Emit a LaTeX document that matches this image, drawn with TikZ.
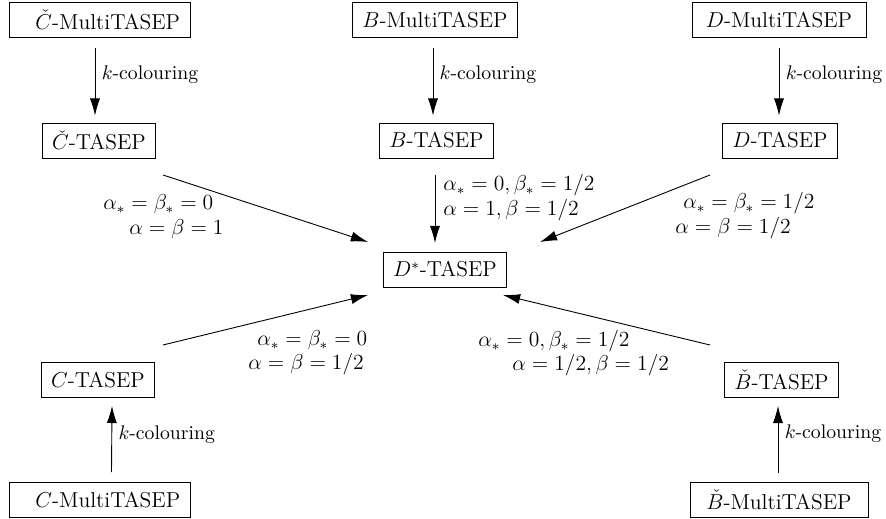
\documentclass[tikz,border=0pt]{standalone}
\usetikzlibrary{arrows.meta}
\begin{document}
\begin{tikzpicture}[x=0.5556pt,y=-0.5556pt,
  box/.style={draw,line width=0.5pt,inner xsep=5.5pt,inner ysep=0pt,minimum height=19.4pt,font=\fontsize{12}{14.4}\selectfont},
  widebox/.style={box,text width=89.6pt,align=right},
  arr/.style={line width=0.5pt,-{Latex[length=9.5pt,width=5.6pt]}},
  klab/.style={anchor=west,inner sep=1pt,xshift=2.5pt,font=\fontsize{10.95}{13.6}\selectfont},
  cond/.style={anchor=base west,inner sep=0pt,font=\fontsize{12}{14.4}\selectfont}]
\useasboundingbox (0,0) rectangle (886,519);
% nodes
\node[widebox] (CcM) at (99.5,20) {$\check{C}$-MultiTASEP};
\node[box] (BM) at (435,20) {$B$-MultiTASEP};
\node[box,minimum width=96.7pt] (DM) at (779,20) {$D$-MultiTASEP};
\node[box] (CcT) at (99,140.5) {$\check{C}$-TASEP};
\node[box] (BT) at (436.5,140.5) {$B$-TASEP};
\node[box] (DT) at (780,140.5) {$D$-TASEP};
\node[box] (Ds) at (445,269.5) {$D^{*}$-TASEP};
\node[box] (CT) at (98,380) {$C$-TASEP};
\node[box] (BcT) at (781.5,380) {$\check{B}$-TASEP};
\node[widebox] (CM) at (99.5,500) {$C$-MultiTASEP};
\node[box,minimum width=98.9pt] (BcM) at (779,500) {$\check{B}$-MultiTASEP};
% vertical arrows
\draw[arr] ([shift={(-4.5,10)}]CcM.south) -- node[klab,pos=0.4] (k1) {$k$-colouring} ([shift={(-4,-7)}]CcT.north);
\draw[arr] ([shift={(-2,10)}]BM.south) -- node[klab,pos=0.4] (k2) {$k$-colouring} ([shift={(-3.5,-7)}]BT.north);
\draw[arr] ([shift={(0,10)}]DM.south) -- node[klab,pos=0.4] (k3) {$k$-colouring} ([shift={(-1,-7)}]DT.north);
\draw[arr] ([shift={(12,-10)}]CM.north) -- node[klab,pos=0.57] (k4) {$k$-colouring} ([shift={(14,8)}]CT.south);
\draw[arr] ([shift={(-1,-9)}]BcM.north) -- node[klab,pos=0.59] (k5) {$k$-colouring} ([shift={(-3.5,8)}]BcT.south);
% diagonal arrows
\draw[arr] ([shift={(64,34.5)}]CcT.center) -- ([shift={(-77,-27.5)}]Ds.center);
\draw[arr] ([shift={(-1.5,34.5)}]BT.center) -- ([shift={(-10,-26.5)}]Ds.center);
\draw[arr] ([shift={(-70,34.5)}]DT.center) -- ([shift={(95,-27.5)}]Ds.center);
\draw[arr] ([shift={(65,-35)}]CT.center) -- ([shift={(-77,25.5)}]Ds.center);
\draw[arr] ([shift={(-71.5,-35)}]BcT.center) -- ([shift={(58,25.5)}]Ds.center);
% condition labels
\node[cond] (c1a) at (103,210) {$\alpha_*=\beta_*=0$};
\node[cond] (c1b) at (129,235) {$\alpha=\beta=1$};
\node[cond] (c2a) at (443,191) {$\alpha_*=0,\beta_*=1/2$};
\node[cond] (c2b) at (443,216) {$\alpha=1,\beta=1/2$};
\node[cond] (c3a) at (683,209) {$\alpha_*=\beta_*=1/2$};
\node[cond] (c3b) at (675,234) {$\alpha=\beta=1/2$};
\node[cond] (c4a) at (257,346) {$\alpha_*=\beta_*=0$};
\node[cond] (c4b) at (248,370) {$\alpha=\beta=1/2$};
\node[cond] (c5a) at (478,347) {$\alpha_*=0,\beta_*=1/2$};
\node[cond] (c5b) at (512,371) {$\alpha=1/2,\beta=1/2$};
\end{tikzpicture}
\end{document}
